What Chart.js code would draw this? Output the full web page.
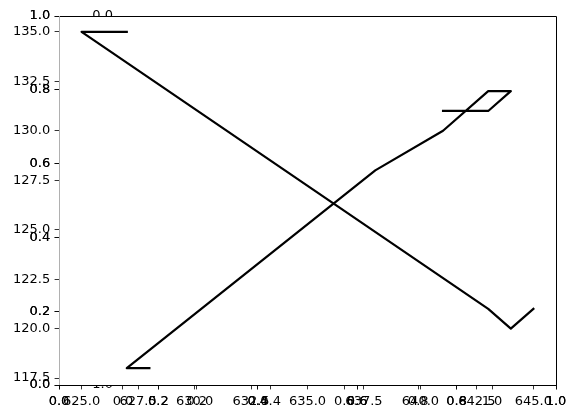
<!DOCTYPE html>
<html>
<head>
<meta charset="utf-8">
<script src="https://cdn.jsdelivr.net/npm/chart.js@4"></script>
<style>
  html, body { margin: 0; padding: 0; background: #fff; }
  #wrap { width: 576px; height: 418px; }
</style>
</head>
<body>
<div id="wrap"><canvas id="chart" width="576" height="418"></canvas></div>
<script>
// Two black paths
const fallX = [627, 625, 643, 644, 645];
const fallY = [135, 135, 121, 120, 121];
const riseX = [628, 627, 638, 641, 643, 644, 643, 641];
const riseY = [118, 118, 128, 130, 132, 132, 131, 131];

// Axis ranges and ticks
const xRange = [624, 646];
const yRange = [117.15, 135.8];
const xTicks = [625, 627.5, 630, 632.5, 635, 637.5, 640, 642.5, 645];
const yTicks = [117.5, 120, 122.5, 125, 127.5, 130, 132.5, 135];
const unitTicks = [0, 0.2, 0.4, 0.6, 0.8, 1];
const squarePad = 0.1734;          // the square inner axes is narrower than the frame
const squareYLabels = ['0.0', '1.0'];

const FONT = { family: 'DejaVu Sans', size: 13 };

const points = (xs, ys) => xs.map((x, i) => ({ x: x, y: ys[i] }));

// common axis look: outward ticks, no grid, no spine (spines drawn by plugin)
const axis = (pos, min, max, ticks, size, weight) => ({
  type: 'linear',
  axis: (pos === 'bottom') ? 'x' : 'y',
  position: pos,
  weight: weight,
  min: min,
  max: max,
  border: { display: false },
  grid: { drawOnChartArea: false, drawTicks: true, tickLength: 4.4, color: '#000', lineWidth: 0.8 },
  ticks: {
    color: '#000', font: FONT, padding: 4.4, autoSkip: false, maxRotation: 0,
    callback: v => Number(v).toFixed(1)
  },
  afterBuildTicks: s => { s.ticks = ticks.map(v => ({ value: v })); },
  afterFit: s => {
    if (pos === 'bottom') s.height = size; else s.width = size;
    // zero-size overlay axes: don't clip their labels to the empty box
    if (size === 0) s._computeLabelArea = () => undefined;
  }
});

const spines = {
  id: 'spines',
  afterDraw(chart) {
    const { ctx, chartArea: a } = chart;
    ctx.save();
    ctx.lineWidth = 1;
    ctx.strokeStyle = '#000';
    ctx.beginPath();
    ctx.moveTo(a.left, a.top + 0.5); ctx.lineTo(a.right + 0.5, a.top + 0.5);
    ctx.lineTo(a.right + 0.5, a.bottom + 0.5); ctx.lineTo(a.left, a.bottom + 0.5);
    ctx.stroke();
    ctx.strokeStyle = '#b0b0b0';
    ctx.beginPath();
    ctx.moveTo(a.left + 0.5, a.top); ctx.lineTo(a.left + 0.5, a.bottom);
    ctx.stroke();

    // y labels of the square axes, half hidden behind the frame
    ctx.beginPath();
    ctx.rect(0, 0, chart.width, chart.height);
    ctx.rect(a.left, a.top, a.right - a.left, a.bottom - a.top);
    ctx.clip('evenodd');
    ctx.fillStyle = '#000';
    ctx.font = FONT.size + 'px "' + FONT.family + '"';
    ctx.textAlign = 'right';
    ctx.textBaseline = 'middle';
    const lx = chart.scales.xq.getPixelForValue(0) - 10;
    ctx.fillText(squareYLabels[0], lx, a.top);
    ctx.fillText(squareYLabels[1], lx, a.bottom);
    ctx.restore();
  }
};

const lineStyle = {
  borderColor: '#000', borderWidth: 2.2, pointRadius: 0, tension: 0,
  fill: false, borderJoinStyle: 'round', borderCapStyle: 'square',
  xAxisID: 'x', yAxisID: 'y'
};

new Chart(document.getElementById('chart'), {
  type: 'line',
  data: {
    datasets: [
      Object.assign({ data: points(fallX, fallY) }, lineStyle),
      Object.assign({ data: points(riseX, riseY) }, lineStyle)
    ]
  },
  options: {
    responsive: false,
    animation: false,
    layout: { padding: { top: 16, right: 20, left: 0, bottom: 0 } },
    plugins: { legend: { display: false }, tooltip: { enabled: false }, colors: { enabled: false } },
    scales: {
      x: axis('bottom', xRange[0], xRange[1], xTicks, 33, 1),
      y: axis('left', yRange[0], yRange[1], yTicks, 59, 1),
      x2: axis('bottom', 0, 1, unitTicks, 0, 0),
      x3: axis('bottom', 0, 1, unitTicks, 0, 0),
      xq: axis('bottom', -squarePad, 1 + squarePad, unitTicks, 0, 0),
      y2: axis('left', 0, 1, unitTicks, 0, 0),
      y3: axis('left', 0, 1, unitTicks, 0, 0)
    }
  },
  plugins: [spines]
});
</script>
</body>
</html>
